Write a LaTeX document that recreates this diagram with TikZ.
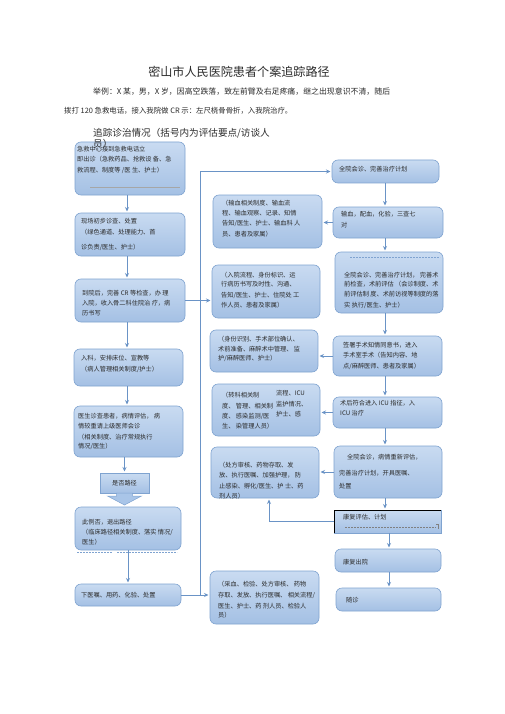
\documentclass[tikz,border=0pt]{standalone}
\usepackage{fontspec}
\setmainfont{Noto Sans CJK SC}
\usetikzlibrary{arrows.meta,fit,calc}
\definecolor{boxtop}{HTML}{C9DBF1}
\definecolor{boxbot}{HTML}{A4C0E4}
\definecolor{boxline}{HTML}{7FA3D0}
\definecolor{arrc}{HTML}{6A93C6}
\definecolor{txtc}{HTML}{2B2B2B}
\definecolor{blockc}{HTML}{A9C5E8}
\tikzset{
  box/.style={draw=boxline, line width=0.6pt, rounded corners=6pt, top color=boxtop, bottom color=boxbot, inner sep=0pt, outer sep=0pt},
  sqbox/.style={box, rounded corners=0pt},
  txt/.style={inner sep=0pt, anchor=north west, align=left, text=txtc, font=\fontsize{6.2}{10.5}\selectfont},
  ctxt/.style={inner sep=0pt, text=txtc, font=\fontsize{6.2}{10.5}\selectfont},
  arr/.style={draw=arrc, line width=0.8pt, -{Stealth[length=4.5pt,width=4pt]}, shorten >=1.5pt},
  ln/.style={draw=arrc, line width=0.8pt},
  dline/.style={draw=boxline, line width=0.6pt, dash pattern=on 2pt off 1pt},
  blk/.style={fill=blockc, draw=boxline, line width=0.5pt},
}
\begin{document}
\begin{tikzpicture}[x=1pt,y=-1pt]
\useasboundingbox (0,0) rectangle (505,714);
\fill[white] (0,0) rectangle (505,714);

% title and intro
\node[inner sep=0pt, text=txtc, font=\fontsize{12.1}{14}\selectfont] (title) at (239,72) {密山市人民医院患者个案追踪路径};
\node[inner sep=0pt, anchor=west, text=txtc, font=\fontsize{7.9}{10}\selectfont] (ex1) at (93,92) {举例：X 某，男，X 岁，因高空跌落，致左前臂及右足疼痛，继之出现意识不清，随后};
\node[inner sep=0pt, anchor=west, text=txtc, font=\fontsize{7.4}{10}\selectfont] (ex2) at (64,111) {拨打 120 急救电话，接入我院做 CR 示：左尺桡骨骨折，入我院治疗。};

% column coordinates
\coordinate (XL) at (127,0);
\coordinate (XR) at (385,0);
\coordinate (XR2) at (389,0);
\coordinate (K) at (269,0);

% left column boxes
\node[box, fit={(75,142) (185,195)}] (L1) {};
\node[box, fit={(75,213) (185,256)}] (L2) {};
\node[box, fit={(75,279) (185,322)}] (L3) {};
\node[box, fit={(74,349) (183,386)}] (L4) {};
\node[box, fit={(74,406) (183,457)}] (L5) {};
\node[sqbox, fit={(100,473) (149,493)}] (P) {};
\node[box, fit={(75,507) (181,550)}] (L6) {};
\node[box, fit={(75,584) (181,606)}] (L7) {};

% middle column boxes
\node[box, fit={(213,195) (322,248)}] (M1) {};
\node[box, fit={(212,265) (320,318)}] (M2) {};
\node[box, fit={(210,330) (318,372)}] (M3) {};
\node[box, fit={(212,384) (320,436)}] (M4) {};
\node[box, fit={(211,447) (319,498)}] (M5) {};
\node[box, fit={(210,571) (319,624)}] (M6) {};

% right column boxes
\node[box, fit={(332,160) (439,183)}] (R1) {};
\node[box, fit={(333,207) (443,238)}] (R2) {};
\node[box, fit={(335,252) (443,313)}] (R3) {};
\node[box, fit={(333,336) (442,376)}] (R4) {};
\node[box, fit={(333,397) (442,428)}] (R5) {};
\node[box, fit={(334,446) (442,498)}] (R6) {};
\node[sqbox, fit={(334,510) (441,533)}] (R7) {};
\node[box, fit={(335,549) (441,572)}] (R8) {};
\node[box, fit={(336,588) (441,611)}] (R9) {};

% decorations inside boxes
\draw[draw=black, line width=0.8pt] (R7.south west) -- (R7.north west) -- (R7.north east);
\draw[draw=gray, line width=0.4pt, dash pattern=on 2pt off 1pt] (345,527) -- (436,527);
\draw[draw=gray, line width=0.4pt] (436,524) -- (438,524) -- (438,529);
\draw[dline] (350,257) -- (440,257);
\draw[dline] (77,552) -- (112,552);
\draw[dline] (117,552) -- (177,552);
\draw[draw=gray!70, line width=0.5pt] (90,187) -- (180,187);

% texts in left column
\node[txt] (L1t) at (77,145.8) {急救中心接到急救电话立\\即出诊（急救药品、抢救设 备、急\\救流程、制度等 /医 生、护士）};
\node[txt] (L2t) at (81,217.8) {现场初步诊查、处置\\[0.5pt]（绿色通道、处理能力、首\\[4.5pt]诊负责/医生、护士）};
\node[txt] (L3t) at (82,289.8) {到院后，完善 CR 等检查，办 理\\[-0.5pt]入院，收入骨二科住院治 疗，病\\[-0.5pt]历书写};
\node[txt] (L4t) at (81,354.8) {入科，安排床位、宣教等\\[0.5pt]（病人管理相关制度/护士）};
\node[txt] (L5t) at (78,412.8) {医生诊查患者，病情评估， 病\\[-0.5pt]情较重请上级医师会诊\\[0.5pt]（相关制度、治疗常规执行\\[-1.5pt]情况/医生）};
\node[ctxt] (Pt) at (P) {是否路径};
\node[txt] (L6t) at (82,518.8) {此例否，退出路径\\[-0.5pt]（临床路径相关制度、落实 情况/\\[-0.5pt]医生）};
\node[txt] (L7t) at (81,591.8) {下医嘱、用药、化验、处置};

% texts in middle column
\node[txt] (M1t) at (222,199.8) {（输血相关制度、输血流\\[-0.2pt]程、输血观察、记录、知情\\[-0.2pt]告知/医生、护士、输血科 人\\[0.5pt]员、患者及家属）};
\node[txt] (M2t) at (221,271.8) {（入院流程、身份标识、运\\[-1.5pt]行病历书写及时性、沟通、\\[0.5pt]告知/医生、护士、住院处 工\\[-0.5pt]作人员、患者及家属）};
\node[txt] (M3t) at (218,335.8) {（身份识别、手术部位确认、\\[-0.5pt]术前准备、麻醉术中管理、 监\\[-1.5pt]护/麻醉医师、护士）};
\node[txt] (M4a) at (222,392.3) {（转科相关制\\[0.5pt]度、 管理、相关制\\[-0.5pt]度、 感染监测/医\\[-0.5pt]生、 染管理人员）};
\node[txt] (M4b) at (276,389.8) {流程、ICU\\[0.5pt]监护情况、\\[-0.5pt]护士、感};
\node[txt] (M5t) at (219,461.8) {（处方审核、药物存取、发\\[-0.5pt]放、执行医嘱、加强护理， 防\\[0.5pt]止感染、孵化/医生、护 士、药\\[-0.5pt]剂人员）};
\node[txt] (M6t) at (218,580.8) {（采血、检验、处方审核、 药物\\[0.5pt]存取、发放、执行医嘱、 相关流程/\\[0.5pt]医生、护士、药 剂人员、检验人\\[-1.5pt]员）};

% texts in right column
\node[txt] (R1t) at (339,165.8) {全院会诊、完善治疗计划};
\node[txt] (R2t) at (341,210.8) {输血，配血，化验，三查七\\[0.5pt]对};
\node[txt] (R3t) at (344,271.8) {全院会诊、完善治疗计划， 完善术\\[-1.5pt]前检查，术前评估 （会诊制度、术\\[-0.5pt]前评估制 度、术前访视等制度的落\\[0.5pt]实 执行/医生、护士）};
\node[txt] (R4t) at (343,341.8) {签署手术知情同意书，进入\\[-0.5pt]手术室手术（告知内容、地\\[0.5pt]点/麻醉医师、患者及家属）};
\node[txt] (R5t) at (340,399.8) {术后符合进入 ICU 指征，入\\[-0.5pt]ICU 治疗};
\node[txt] (R6t) at (339,453.8) {\hspace{8pt}全院会诊，病情重新评估，\\[5.5pt]完善治疗计划，开具医嘱、\\[2.5pt]处置};
\node[txt] (R7t) at (343,513.8) {康复评估、计划};
\node[txt] (R8t) at (343,558.8) {康复出院};
\node[txt] (R9t) at (346,596.8) {随诊};

% heading (printed over the first box)
\node[inner sep=0pt, anchor=north west, align=left, text=txtc, font=\fontsize{9.6}{11}\selectfont] (head) at (93,128.3) {追踪诊治情况（括号内为评估要点/访谈人\\员）};

% left column arrows
\draw[arr] (L1.south -| XL) -- (L2.north -| XL);
\draw[arr] (L2.south -| XL) -- (L3.north -| XL);
\draw[arr] (L3.south -| XL) -- (L4.north -| XL);
\draw[arr] (L4.south -| XL) -- (L5.north -| XL);
\draw[arr] (L5.south -| P.south) -- (P.north);
\draw[blk] ($(P.south)+(-8,0)$) -- ($(P.south)+(8,0)$) -- ($(P.south)+(8,3)$) -- ($(P.south)+(17,3)$) -- ($(P.south)+(0,12)$) -- ($(P.south)+(-17,3)$) -- ($(P.south)+(-8,3)$) -- cycle;
\draw[arr] (L6.south -| 128,0) -- (L7.north -| 128,0);

% cross arrows
\draw[arr] (L3.east) -- (L3.east -| M2.west);
\coordinate (J) at (L7.east -| 200,0);
\draw[arr] (L7.east) -- (L7.east -| M6.west);
\draw[ln] (J) -- (J |- R1.west);
\draw[arr] (J |- R1.west) -- (R1.west);

% right column arrows
\draw[arr] (R1.south -| XR) -- (R2.north -| XR);
\draw[arr] (R2.south -| XR) -- (R3.north -| XR);
\draw[arr] (R3.south -| XR) -- (R4.north -| XR);
\draw[arr] (R4.south -| XR) -- (R5.north -| XR);
\draw[arr] (R5.south -| XR) -- (R6.north -| XR);
\draw[arr] (R6.south -| XR) -- (R7.north -| XR);
\draw[arr] (R7.south -| XR2) -- (R8.north -| XR2);
\draw[arr] (R8.south -| XR2) -- (R9.north -| XR2);

% right to middle arrows
\draw[arr] (R2.west) -- (R2.west -| M1.east);
\draw[arr] (R4.west) -- (R4.west -| M3.east);
\draw[arr] (R5.west) -- (R5.west -| M4.east);
\draw[arr] (R6.west) -- (R6.west -| M5.east);
\draw[arr] (R7.west) -| (K |- M5.south);
\end{tikzpicture}
\end{document}
